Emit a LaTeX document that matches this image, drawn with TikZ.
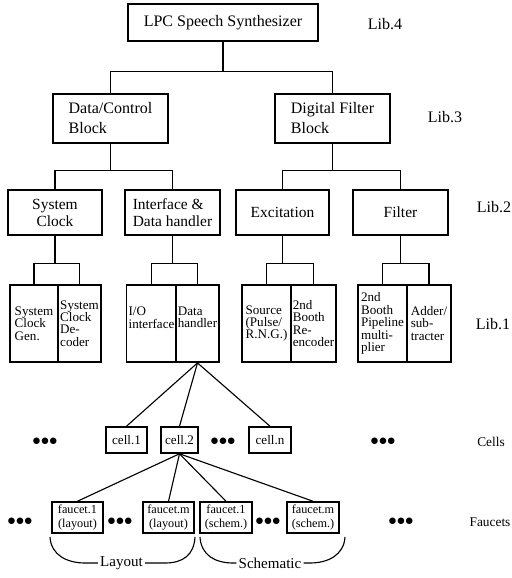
\documentclass[tikz,border=0pt]{standalone}
\usepackage{fontspec}
\setmainfont{Liberation Serif}
\usetikzlibrary{positioning}
\newcommand\TikzUnit{0.025cm}
\tikzset{
  block/.style={
    draw,
    line width=1.3pt,
    inner sep=1.5pt
  },
  boxw/.style={
    minimum width=#1*\TikzUnit
  },
}
\tikzset{
  lvlfour/.style={
    block,
    minimum height=37*\TikzUnit,
    font=\fontsize{11.4}{14.2}\selectfont
  },
  lvlthree/.style={
    block,
    align=left,
    minimum height=49*\TikzUnit,
    font=\fontsize{11.4}{14.2}\selectfont
  },
  lvltwo/.style={
    block,
    align=center,
    minimum height=45*\TikzUnit,
    font=\fontsize{11}{12.1}\selectfont
  },
  leaf/.style={
    block,
    align=left,
    minimum height=77*\TikzUnit,
    font=\fontsize{9.3}{8.8}\selectfont
  },
  cellbox/.style={
    block,
    line width=1.1pt,
    minimum height=26*\TikzUnit,
    font=\fontsize{9.3}{10}\selectfont
  },
  faucetbox/.style={
    block,
    line width=1.1pt,
    align=center,
    minimum height=31*\TikzUnit,
    font=\fontsize{8.7}{9.6}\selectfont
  },
  libtag/.style={
    font=\fontsize{11.4}{13}\selectfont
  },
  rowtag/.style={
    font=\fontsize{9.5}{11}\selectfont
  },
  groupname/.style={
    inner sep=1.5pt,
    font=\fontsize{10.7}{12}\selectfont
  },
  dots/.style={
    inner sep=0pt,
    font=\fontsize{13}{13}\selectfont
  },
  link/.style={
    line width=0.8pt
  }
}

\begin{document}
\begin{tikzpicture}[x=\TikzUnit,y=-\TikzUnit]
    \useasboundingbox (0,0) rectangle (512,578);

    % Lib.4 and Lib.3
    \node[lvlfour, boxw=190] (lpc) at (223,22.5) {LPC Speech Synthesizer};
    \node[libtag] (tag4) at (385,24) {Lib.4};
    \node[lvlthree, boxw=115] (dc) at (110.5,118.5) {Data/Control\\Block};
    \node[lvlthree, boxw=115] (df) at (332.5,118.5) {Digital Filter\\Block};
    \node[libtag] (tag3) at (445,117) {Lib.3};

    \draw[link] (dc.north) -- ++(0,-22) coordinate (j4) -| (df.north);
    \draw[link] (lpc.south) -- (lpc.south |- j4);

    % Lib.2
    \node[lvltwo, boxw=94] (sc) at (55,212.5) {System\\Clock};
    \node[lvltwo, boxw=95, align=left] (idh) at (172.5,212.5) {Interface \&\\Data handler};
    \node[lvltwo, boxw=93] (exc) at (282.5,212.5) {Excitation};
    \node[lvltwo, boxw=95] (fil) at (400.5,212.5) {Filter};
    \node[libtag] (tag2) at (494,207) {Lib.2};

    \draw[link] (sc.north) -- ++(0,-19) coordinate (j3a) -| (idh.north);
    \draw[link] (dc.south) -- (dc.south |- j3a);
    \draw[link] (exc.north) -- ++(0,-19) coordinate (j3b) -| (fil.north);
    \draw[link] (df.south) -- (df.south |- j3b);

    % Lib.1
    \node[leaf, boxw=48] (scg) at (34,323.5) {System\\Clock\\Gen.};
    \node[leaf, boxw=43] (scd) at (79.5,323.5) {System\\Clock\\De-\\coder};
    \node[leaf, boxw=49, text depth=8.5pt] (io) at (151.5,323.5) {I/O\\interface};
    \node[leaf, boxw=43, text depth=8.5pt] (dh) at (197.5,323.5) {Data\\handler};
    \node[leaf, boxw=49] (src) at (266.5,323.5) {Source\\(Pulse/\\R.N.G.)};
    \node[leaf, boxw=45] (bre) at (313.5,323.5) {2nd\\Booth\\Re-\\encoder};
    \node[leaf, boxw=49] (bpm) at (382.5,323.5) {2nd\\Booth\\Pipeline\\multi-\\plier};
    \node[leaf, boxw=44] (add) at (429,323.5) {Adder/\\sub-\\tracter};
    \node[libtag] (tag1) at (493,324) {Lib.1};

    \draw[link] (scg.north) -- ++(0,-21) coordinate (j2a) -| (scd.north);
    \draw[link] (sc.south) -- (sc.south |- j2a);
    \draw[link] (io.north) -- ++(0,-21) coordinate (j2b) -| (dh.north);
    \draw[link] (idh.south) -- (idh.south |- j2b);
    \draw[link] (src.north) -- ++(0,-21) coordinate (j2c) -| (bre.north);
    \draw[link] (exc.south) -- (exc.south |- j2c);
    \draw[link] (bpm.north) -- ++(0,-21) coordinate (j2d) -| (add.north);
    \draw[link] (fil.south) -- (fil.south |- j2d);

    % Cells
    \node[cellbox, boxw=41] (c1) at (126.5,440) {cell.1};
    \node[cellbox, boxw=37] (c2) at (179.5,440) {cell.2};
    \node[cellbox, boxw=42] (cn) at (270,440) {cell.n};
    \node[dots] (d1) at (45,442) {${\bullet}{\bullet}{\bullet}$};
    \node[dots] (d2) at (223,442) {${\bullet}{\bullet}{\bullet}$};
    \node[dots] (d3) at (383,442) {${\bullet}{\bullet}{\bullet}$};
    \node[rowtag] (cells) at (491,442) {Cells};

    \draw[link] (dh.south) -- (c1.north);
    \draw[link] (dh.south) -- (c2.north);
    \draw[link] (dh.south) -- (cn.north);

    % Faucets
    \node[faucetbox, boxw=51] (f1l) at (77.5,517.5) {faucet.1\\(layout)};
    \node[faucetbox, boxw=51] (fml) at (168.5,517.5) {faucet.m\\(layout)};
    \node[faucetbox, boxw=52] (f1s) at (226,517.5) {faucet.1\\(schem.)};
    \node[faucetbox, boxw=52] (fms) at (313,517.5) {faucet.m\\(schem.)};
    \node[dots] (e1) at (20,522) {${\bullet}{\bullet}{\bullet}$};
    \node[dots] (e2) at (120,522) {${\bullet}{\bullet}{\bullet}$};
    \node[dots] (e3) at (268,522) {${\bullet}{\bullet}{\bullet}$};
    \node[dots] (e4) at (401,522) {${\bullet}{\bullet}{\bullet}$};
    \node[rowtag] (faucets) at (490,522) {Faucets};

    \draw[link] (c2.south) -- (f1l.north);
    \draw[link] (c2.south) -- (fml.north);
    \draw[link] (c2.south) -- (f1s.north);
    \draw[link] (c2.south) -- (fms.north);

    % Layout / Schematic groups
    \coordinate (lay0) at (50,537);
    \coordinate (lay1) at (195,537);
    \node[groupname] (lay) at (121.5,563) {Layout};
    \draw[link] (lay0) .. controls +(1,18) and +(-18,0) .. ++(35,26) -- (lay.west);
    \draw[link] (lay1) .. controls +(-1,18) and +(18,0) .. ++(-30,26) -- (lay.east);

    \coordinate (sch0) at (200,537);
    \coordinate (sch1) at (345,537);
    \node[groupname] (sch) at (270,563) {Schematic};
    \draw[link] (sch0) .. controls +(1,18) and +(-18,0) .. ++(33,26) -- (sch.west);
    \draw[link] (sch1) .. controls +(-1,18) and +(18,0) .. ++(-35,26) -- (sch.east);
\end{tikzpicture}
\end{document}
